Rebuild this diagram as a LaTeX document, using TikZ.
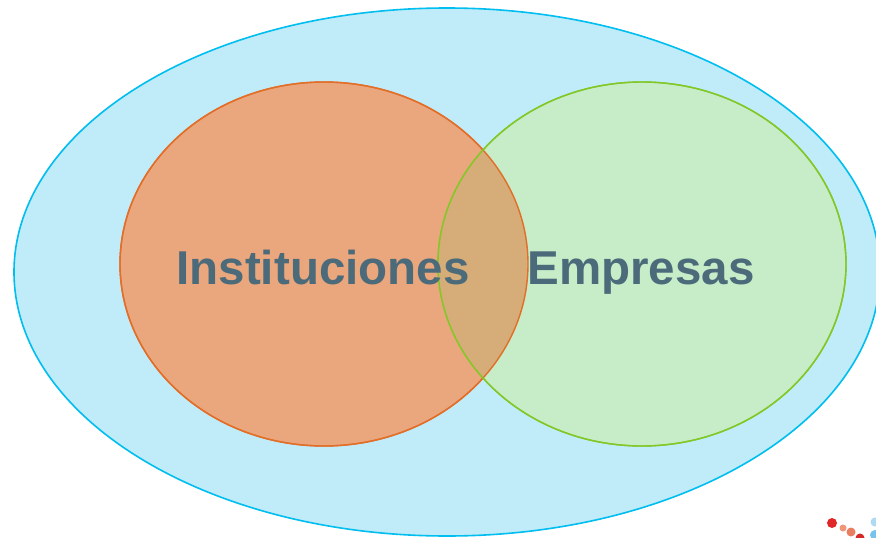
\documentclass[tikz,border=0pt]{standalone}
\usepackage{fontspec}
\setmainfont{Liberation Sans}
\definecolor{overlapc}{RGB}{214,172,120}
\begin{document}
\begin{tikzpicture}[x=1pt,y=-1pt,
  outerset/.style={draw={rgb,255:red,0;green,190;blue,240}, line width=1.6pt, fill={rgb,255:red,192;green,235;blue,248}},
  instset/.style={draw={rgb,255:red,226;green,110;blue,40}, line width=1.4pt, fill={rgb,255:red,234;green,166;blue,124}},
  empset/.style={draw={rgb,255:red,130;green,200;blue,40}, line width=1.4pt, fill={rgb,255:red,198;green,236;blue,200}},
  lbl/.style={font=\fontsize{47.5}{48}\selectfont\bfseries, text={rgb,255:red,75;green,107;blue,122}, inner sep=0pt, anchor=base},
  logodot/.style={circle, inner sep=0pt, draw=none}
]
\useasboundingbox (0,0) rectangle (876,538);
\fill[white] (0,0) rectangle (876,538);
\path[outerset] (447,272) ellipse [x radius=433, y radius=264];
\path[instset] (324,264) ellipse [x radius=204, y radius=182];
\path[empset] (642,264) ellipse [x radius=204, y radius=182];
\begin{scope}
  \clip (324,264) ellipse [x radius=204, y radius=182];
  \fill[overlapc] (642,264) ellipse [x radius=204, y radius=182];
\end{scope}
\draw[draw={rgb,255:red,226;green,110;blue,40}, line width=1.4pt] (324,264) ellipse [x radius=204, y radius=182];
\draw[draw={rgb,255:red,130;green,200;blue,40}, line width=1.4pt] (642,264) ellipse [x radius=204, y radius=182];
\node[lbl] (inst) at (323,284) {Instituciones};
\node[lbl] (emp) at (641,284) {Empresas};
\node[logodot, fill={rgb,255:red,225;green,40;blue,40}, minimum size=10pt] (d1) at (832,523) {};
\node[logodot, fill={rgb,255:red,238;green,150;blue,120}, minimum size=7pt] (d2) at (843,528) {};
\node[logodot, fill={rgb,255:red,232;green,125;blue,95}, minimum size=9pt] (d3) at (851,532) {};
\node[logodot, fill={rgb,255:red,215;green,40;blue,40}, minimum size=9pt] (d4) at (860,538) {};
\node[logodot, fill={rgb,255:red,175;green,218;blue,242}, minimum size=9pt] (d5) at (875,522) {};
\node[logodot, fill={rgb,255:red,120;green,195;blue,235}, minimum size=10pt] (d6) at (875,535) {};
\end{tikzpicture}
\end{document}
